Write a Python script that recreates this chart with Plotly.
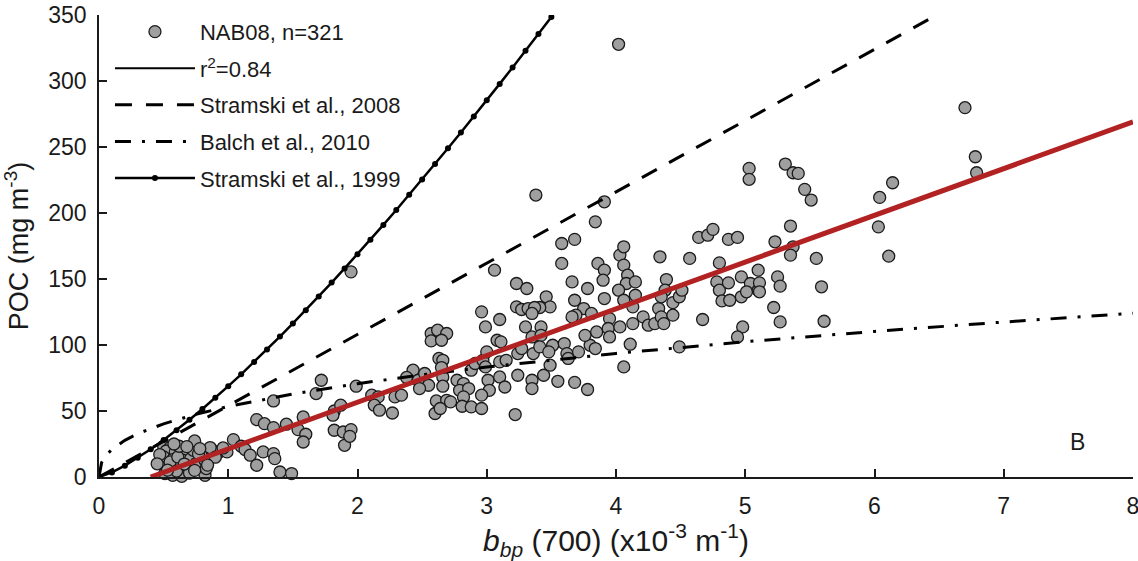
import plotly.graph_objects as go

# ---------------- data ----------------
# NAB08 observations: bbp(700) (x10^-3 m^-1) and POC (mg m^-3)
nab_bbp_low = [0.50, 0.55, 0.52, 0.59, 0.64, 0.68, 0.50, 0.57, 0.65, 0.71,
               0.53, 0.61, 0.69, 0.75, 0.82, 0.79, 0.51, 0.57, 0.64, 0.70,
               0.82, 0.83, 0.88, 0.92, 0.55, 0.61, 0.73, 0.62, 0.74, 0.86,
               0.77, 0.99, 1.04, 1.10, 1.13, 1.17, 1.22, 1.40, 1.49, 1.27,
               1.35, 1.36, 1.22, 1.28, 1.35, 1.45, 1.35, 1.58, 1.54, 1.60,
               1.58, 1.72, 1.68, 1.82, 1.81, 1.87, 1.82, 1.89, 1.90, 1.95,
               0.47, 0.60, 0.66, 0.74, 0.53, 0.78, 0.90, 0.96, 0.58, 0.45, 0.68, 0.84]
nab_poc_low = [23.3, 22.3, 19.7, 19.0, 17.7, 18.2, 15.2, 13.2, 12.7, 13.9,
               8.1, 7.1, 7.1, 10.2, 12.7, 16.5, 2.6, 1.3, 0.5, 3.0,
               1.3, 6.4, 20.2, 18.2, 11.4, 15.2, 20.2, 23.3, 27.3, 22.3,
               17.7, 19.0, 28.3, 23.3, 20.8, 16.5, 8.9, 3.8, 2.6, 19.0,
               17.7, 13.9, 43.5, 40.4, 37.4, 40.0, 57.6, 45.5, 35.9, 32.4,
               26.5, 73.3, 63.2, 50.0, 46.8, 54.4, 35.4, 34.1, 24.0, 155.4,
               17.0, 4.5, 9.8, 5.0, 5.2, 21.5, 15.0, 22.0, 25.0, 10.0, 23.0, 9.0]

nab_bbp_mid = [1.95, 1.94, 1.99, 2.11, 2.16, 2.13, 2.17, 2.27, 2.29, 2.34,
               2.43, 2.38, 2.47, 2.52, 2.55, 2.48, 2.57, 2.62, 2.69, 2.57,
               2.65, 2.63, 2.66, 2.65, 2.66, 2.66, 2.61, 2.69, 2.60, 2.64,
               2.72, 2.77, 2.82, 2.79, 2.86, 2.82, 2.81, 2.88, 2.96, 2.88,
               2.91, 2.97, 2.99, 2.96, 2.99, 3.10, 3.08, 3.11, 3.00, 3.10,
               3.15, 3.01, 3.02, 2.96, 3.10, 3.14, 3.22, 3.23, 3.27, 3.32,
               3.23, 3.31, 3.24, 3.27, 3.24, 3.06]
nab_poc_mid = [35.9, 30.8, 68.8, 62.0, 60.7, 54.4, 50.6, 48.5, 60.7, 62.0,
               80.9, 75.4, 73.3, 78.4, 69.5, 67.0, 108.7, 111.2, 108.7, 103.1,
               103.6, 89.8, 88.4, 82.9, 75.8, 68.8, 57.6, 58.1, 48.1, 51.9,
               56.9, 73.3, 70.8, 65.7, 67.0, 60.7, 53.6, 53.1, 51.9, 80.9,
               86.0, 88.4, 83.4, 125.1, 113.7, 119.3, 103.6, 102.4, 94.8, 87.2,
               88.4, 73.3, 65.7, 62.0, 75.8, 68.2, 47.3, 128.9, 126.9, 127.6,
               146.6, 142.8, 93.5, 97.3, 77.1, 156.7]

nab_bbp_upper = [3.91, 3.84, 3.58, 3.68, 3.58, 3.86, 3.91, 3.90, 3.66, 3.78,
                 3.46, 3.49, 3.41, 3.37, 3.68, 3.75, 3.69, 3.66, 3.81, 3.91,
                 4.03, 4.06, 4.06, 4.09, 4.08, 4.02, 4.06, 4.15, 4.15, 4.13,
                 3.95, 3.94, 3.95, 4.03, 4.13, 4.21, 4.25, 4.30, 4.33, 4.35,
                 4.37, 4.39, 4.38, 4.35, 4.44, 4.44, 4.49, 4.51, 4.34, 4.57,
                 4.64, 4.71, 4.75, 4.87, 4.94, 4.80, 4.67, 4.78, 4.80, 4.87,
                 4.82, 4.88, 4.97, 5.04, 4.97, 5.01, 4.98, 4.94, 5.10, 5.10,
                 4.49, 4.11, 4.06, 3.30, 3.42, 3.35, 3.42, 3.51, 3.60, 3.62,
                 3.63, 3.71, 3.80, 3.84, 3.36, 3.41, 3.48, 3.49, 3.44, 3.35,
                 3.35, 3.55, 3.68, 3.78, 3.85, 3.76, 3.38, 4.02, 3.35]
nab_poc_upper = [208.5, 193.3, 176.9, 180.0, 161.8, 161.8, 156.7, 149.1, 147.8, 142.8,
                 136.5, 128.9, 128.4, 128.4, 133.9, 127.6, 122.6, 121.3, 123.9, 135.2,
                 168.1, 174.4, 160.5, 152.9, 146.6, 141.5, 133.9, 147.8, 137.7, 128.9,
                 120.0, 112.5, 106.1, 113.7, 116.2, 121.3, 115.0, 116.2, 127.6, 121.3,
                 116.2, 149.6, 141.5, 136.5, 132.1, 122.6, 136.5, 141.5, 166.8, 165.6,
                 181.5, 183.2, 187.6, 180.0, 181.5, 162.2, 119.3, 147.8, 141.5, 147.1,
                 133.4, 133.9, 151.6, 146.6, 136.5, 140.3, 113.7, 106.1, 156.7, 141.5,
                 98.6, 100.6, 83.4, 113.7, 113.7, 106.1, 107.3, 99.8, 101.1, 93.5,
                 89.8, 94.8, 99.8, 97.3, 93.5, 98.6, 94.8, 84.7, 77.1, 73.3,
                 67.0, 72.5, 71.7, 66.3, 109.9, 107.3, 213.6, 327.8, 123.9]

nab_bbp_high = [5.03, 5.03, 5.31, 5.37, 5.41, 5.46, 5.51, 5.35, 5.23, 5.37,
                5.35, 5.55, 5.11, 5.11, 5.25, 5.27, 5.59, 5.22, 5.27, 5.61,
                6.04, 6.14, 6.03, 6.11, 6.78, 6.79, 6.70]
nab_poc_high = [233.8, 225.5, 237.1, 230.5, 230.0, 217.9, 209.8, 190.1, 178.2, 174.4,
                168.1, 165.6, 147.1, 140.3, 151.6, 144.6, 144.1, 128.4, 117.5, 118.0,
                211.8, 222.9, 189.5, 167.3, 242.6, 230.5, 279.8]

# regression line (r^2 = 0.84)
fit_bbp = [0.40, 8.0]
fit_poc = [0.0, 269.0]

# Stramski et al., 2008 (straight line through the origin)
s08_bbp = [0.0, 6.5]
s08_poc = [0.0, 351.0]

# Balch et al., 2010
balch_bbp = [0.0, 0.02, 0.05, 0.1, 0.2, 0.3, 0.5, 0.75, 1.0, 1.5,
             2.0, 2.5, 3.0, 3.5, 4.0, 5.0, 6.0, 7.0, 8.0]
balch_poc = [0.0, 10.9, 15.9, 21.0, 27.8, 32.8, 40.3, 47.5, 53.4, 62.9,
             70.7, 77.4, 83.3, 88.7, 93.6, 102.5, 110.3, 117.4, 124.0]

# Stramski et al., 1999 (curve with dots)
s99_bbp = [0.0, 0.1, 0.2, 0.3, 0.4, 0.5, 0.6, 0.7, 0.8, 0.9,
           1.0, 1.1, 1.2, 1.3, 1.4, 1.5, 1.6, 1.7, 1.8, 1.9,
           2.0, 2.1, 2.2, 2.3, 2.4, 2.5, 2.6, 2.7, 2.8, 2.9,
           3.0, 3.1, 3.2, 3.3, 3.4, 3.5]
s99_poc = [0.0, 3.5, 8.6, 14.5, 21.0, 28.0, 35.5, 43.4, 51.5, 60.0,
           68.8, 77.8, 87.1, 96.6, 106.4, 116.3, 126.4, 136.8, 147.3, 158.0,
           168.8, 179.8, 191.0, 202.3, 213.8, 225.4, 237.1, 249.0, 261.0, 273.1,
           285.4, 297.8, 310.3, 322.9, 335.6, 348.5]

x_ticks = [0, 1, 2, 3, 4, 5, 6, 7, 8]
y_ticks = [0, 50, 100, 150, 200, 250, 300, 350]

nab_bbp = nab_bbp_low + nab_bbp_mid + nab_bbp_upper + nab_bbp_high
nab_poc = nab_poc_low + nab_poc_mid + nab_poc_upper + nab_poc_high

# ---------------- figure ----------------
FONT = "Liberation Sans, Arial, Helvetica, sans-serif"
INK = "#1a1a1a"

fig = go.Figure()
fig.add_trace(go.Scatter(
    x=nab_bbp, y=nab_poc, mode="markers", name="NAB08, n=321",
    marker=dict(size=12, color="#9f9f9f", line=dict(color=INK, width=1.3)),
    cliponaxis=False, legendrank=1, legendgroup="a"))
fig.add_trace(go.Scatter(
    x=s08_bbp, y=s08_poc, mode="lines", name="Stramski et al., 2008",
    line=dict(color="black", width=3, dash="17px,14px"),
    legendrank=3, legendgroup="c"))
fig.add_trace(go.Scatter(
    x=balch_bbp, y=balch_poc, mode="lines", name="Balch et al., 2010",
    line=dict(color="black", width=3, dash="16px,11px,3px,11px"),
    legendrank=4, legendgroup="d"))
fig.add_trace(go.Scatter(
    x=s99_bbp, y=s99_poc, mode="lines+markers", name="Stramski et al., 1999",
    line=dict(color="black", width=2.5), marker=dict(size=6, color="black"),
    legendrank=5, legendgroup="e"))
fig.add_trace(go.Scatter(
    x=fit_bbp, y=fit_poc, mode="lines", showlegend=False,
    line=dict(color="#b22222", width=5)))
# legend key for the regression (drawn black in the key, as in the original)
fig.add_trace(go.Scatter(
    x=[None], y=[None], mode="lines", name="r<sup>2</sup>=0.84",
    line=dict(color="black", width=2), legendrank=2, legendgroup="b"))

axis_common = dict(
    ticks="inside", ticklen=8, tickwidth=1.5, tickcolor=INK,
    showline=True, linecolor=INK, linewidth=1.5,
    showgrid=False, zeroline=False, ticklabeloverflow="allow",
    automargin=False,
    tickfont=dict(size=23, family=FONT, color=INK),
)

fig.update_layout(
    width=1138, height=561,
    margin=dict(l=99, r=5, t=15, b=84),
    paper_bgcolor="white", plot_bgcolor="white",
    font=dict(family=FONT, color=INK),
    showlegend=True,
    legend=dict(x=0.0106, y=1.009, xanchor="left", yanchor="top",
                itemwidth=80,
                bgcolor="rgba(0,0,0,0)", font=dict(size=22, family=FONT, color=INK),
                traceorder="grouped", tracegroupgap=5),
    xaxis=dict(range=[0, 8], tickvals=x_ticks, ticklabelstandoff=8,
               title=dict(text="<i>b<sub>bp</sub></i> (700) (x10<sup>-3</sup> m<sup>-1</sup>)",
                          font=dict(size=30, family=FONT, color=INK), standoff=0),
               **axis_common),
    yaxis=dict(range=[0, 350], tickvals=y_ticks, ticklabelstandoff=6,
               title=dict(text="POC (mg m<sup>-3</sup>)",
                          font=dict(size=27, family=FONT, color=INK), standoff=12),
               **axis_common),
    annotations=[dict(x=7.57, y=26.7, xref="x", yref="y", text="B", showarrow=False,
                      font=dict(size=23, family=FONT, color=INK))],
)

fig.write_html("out.html")
